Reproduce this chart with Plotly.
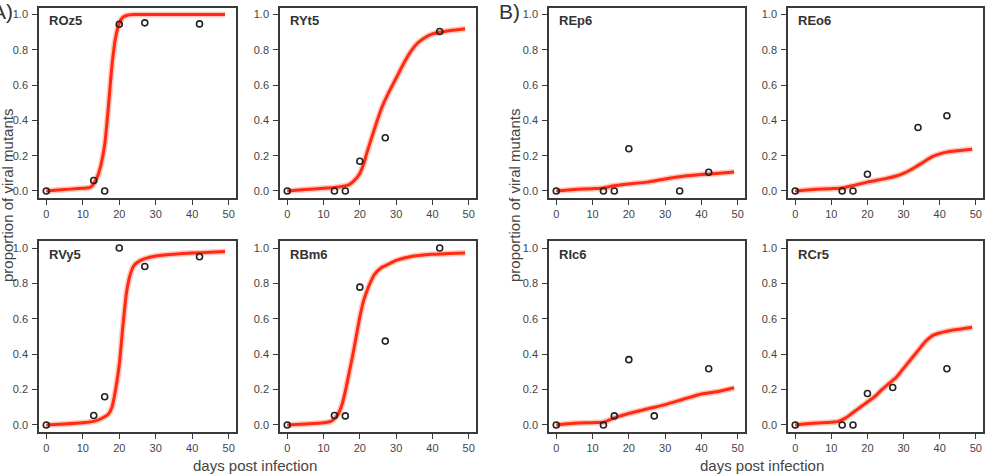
import plotly.graph_objects as go

# ---------------- data ----------------
panel_names = ["ROz5", "RYt5", "REp6", "REo6", "RVy5", "RBm6", "RIc6", "RCr5"]

x_ticks = [0, 10, 20, 30, 40, 50]
y_ticks = [0.0, 0.2, 0.4, 0.6, 0.8, 1.0]

# observed points
roz5_days = [0, 13, 16, 20, 27, 42]
roz5_obs = [0.0, 0.059, 0.0, 0.945, 0.953, 0.947]
ryt5_days = [0, 13, 16, 20, 27, 42]
ryt5_obs = [0.0, 0.0, 0.0, 0.168, 0.302, 0.904]
rvy5_days = [0, 13, 16, 20, 27, 42]
rvy5_obs = [0.0, 0.053, 0.159, 1.0, 0.896, 0.951]
rbm6_days = [0, 13, 16, 20, 27, 42]
rbm6_obs = [0.0, 0.053, 0.051, 0.779, 0.474, 1.0]
rep6_days = [0, 13, 16, 20, 34, 42]
rep6_obs = [0.0, 0.0, 0.0, 0.239, 0.0, 0.106]
reo6_days = [0, 13, 16, 20, 34, 42]
reo6_obs = [0.0, 0.0, 0.0, 0.095, 0.36, 0.426]
ric6_days = [0, 13, 16, 20, 27, 42]
ric6_obs = [0.0, 0.0, 0.051, 0.369, 0.051, 0.318]
rcr5_days = [0, 13, 16, 20, 27, 42]
rcr5_obs = [0.0, 0.0, 0.0, 0.178, 0.212, 0.318]

# fitted curves
roz5_fit_x = [0, 5, 10, 12, 13, 14, 15, 16, 17, 18, 19, 20, 21, 22, 24, 30, 40, 49]
roz5_fit_y = [0.0, 0.008, 0.015, 0.02, 0.04, 0.08, 0.15, 0.26, 0.47, 0.71, 0.87, 0.95, 0.985, 0.995, 1.0, 1.0, 1.0, 1.0]
ryt5_fit_x = [0, 5, 10, 13, 15, 17, 19, 20, 21, 22, 24, 26, 28, 30, 32, 34, 36, 38, 40, 42, 45, 49]
ryt5_fit_y = [0.0, 0.008, 0.015, 0.02, 0.025, 0.035, 0.07, 0.1, 0.15, 0.22, 0.35, 0.47, 0.56, 0.64, 0.72, 0.79, 0.84, 0.87, 0.89, 0.9, 0.91, 0.92]
rvy5_fit_x = [0, 5, 10, 13, 15, 17, 18, 19, 20, 21, 22, 23, 24, 25, 27, 30, 35, 40, 45, 49]
rvy5_fit_y = [0.0, 0.005, 0.012, 0.02, 0.035, 0.06, 0.1, 0.2, 0.34, 0.56, 0.75, 0.85, 0.9, 0.92, 0.94, 0.955, 0.965, 0.972, 0.976, 0.98]
rbm6_fit_x = [0, 5, 10, 12, 13, 14, 15, 16, 17, 18, 19, 20, 21, 22, 23, 24, 26, 28, 30, 35, 40, 45, 49]
rbm6_fit_y = [0.0, 0.005, 0.012, 0.02, 0.035, 0.06, 0.11, 0.19, 0.29, 0.39, 0.5, 0.61, 0.7, 0.76, 0.81, 0.85, 0.89, 0.91, 0.93, 0.955, 0.965, 0.97, 0.972]
rep6_fit_x = [0, 5, 10, 13, 16, 20, 25, 30, 35, 40, 45, 49]
rep6_fit_y = [0.0, 0.008, 0.013, 0.017, 0.03, 0.04, 0.05, 0.068, 0.083, 0.093, 0.1, 0.107]
reo6_fit_x = [0, 5, 10, 13, 16, 20, 25, 28, 30, 32, 34, 36, 38, 40, 42, 45, 49]
reo6_fit_y = [0.0, 0.008, 0.013, 0.017, 0.03, 0.05, 0.07, 0.085, 0.1, 0.12, 0.145, 0.17, 0.195, 0.21, 0.22, 0.228, 0.237]
ric6_fit_x = [0, 5, 10, 13, 16, 20, 25, 30, 35, 40, 45, 49]
ric6_fit_y = [0.0, 0.01, 0.013, 0.015, 0.04, 0.065, 0.09, 0.115, 0.145, 0.175, 0.19, 0.21]
rcr5_fit_x = [0, 5, 10, 12, 14, 16, 18, 20, 22, 24, 26, 28, 30, 32, 34, 36, 38, 40, 42, 45, 49]
rcr5_fit_y = [0.0, 0.01, 0.015, 0.02, 0.04, 0.07, 0.1, 0.13, 0.16, 0.2, 0.235, 0.27, 0.32, 0.37, 0.42, 0.47, 0.505, 0.52, 0.53, 0.54, 0.552]

panel_days = [roz5_days, ryt5_days, rep6_days, reo6_days, rvy5_days, rbm6_days, ric6_days, rcr5_days]
panel_obs = [roz5_obs, ryt5_obs, rep6_obs, reo6_obs, rvy5_obs, rbm6_obs, ric6_obs, rcr5_obs]
panel_fit_x = [roz5_fit_x, ryt5_fit_x, rep6_fit_x, reo6_fit_x, rvy5_fit_x, rbm6_fit_x, ric6_fit_x, rcr5_fit_x]
panel_fit_y = [roz5_fit_y, ryt5_fit_y, rep6_fit_y, reo6_fit_y, rvy5_fit_y, rbm6_fit_y, ric6_fit_y, rcr5_fit_y]

# ---------------- layout geometry (pixels) ----------------
W, H = 988, 476
col_px = [(39, 236), (280, 476), (549, 745), (788, 983)]
row_px = [(7.5, 198), (241, 432)]

FONT = "Liberation Sans, Arial, sans-serif"
TXT = "#444444"
RED = "#ff2a10"

fig = go.Figure()
layout_axes = {}
annotations = []

for i, name in enumerate(panel_names):
    r, c = divmod(i, 4)
    n = i + 1
    xa = "x" if n == 1 else f"x{n}"
    ya = "y" if n == 1 else f"y{n}"
    x0, x1 = col_px[c]
    top, bot = row_px[r]
    xdom = [x0 / W, x1 / W]
    ydom = [1 - bot / H, 1 - top / H]

    # soft halo under the curve
    fig.add_trace(go.Scatter(x=panel_fit_x[i], y=panel_fit_y[i], mode="lines",
                             line=dict(color="rgba(255,70,40,0.30)", width=6, shape="spline", smoothing=0.6),
                             xaxis=xa, yaxis=ya, showlegend=False, hoverinfo="skip"))
    fig.add_trace(go.Scatter(x=panel_fit_x[i], y=panel_fit_y[i], mode="lines",
                             line=dict(color=RED, width=3, shape="spline", smoothing=0.6),
                             xaxis=xa, yaxis=ya, showlegend=False))
    fig.add_trace(go.Scatter(x=panel_days[i], y=panel_obs[i], mode="markers",
                             marker=dict(symbol="circle-open", size=6, color="#222222",
                                         line=dict(width=1.6, color="#222222")),
                             xaxis=xa, yaxis=ya, showlegend=False))

    axis_common = dict(showline=True, mirror=True, linecolor="#3a3a3a", linewidth=1.5,
                       ticks="outside", ticklen=5, tickwidth=1.2, tickcolor="#3a3a3a",
                       showgrid=False, zeroline=False,
                       tickfont=dict(family=FONT, size=11, color=TXT))
    layout_axes["xaxis" if n == 1 else f"xaxis{n}"] = dict(
        domain=xdom, range=[-2, 52], tickvals=x_ticks, anchor=ya, **axis_common)
    layout_axes["yaxis" if n == 1 else f"yaxis{n}"] = dict(
        domain=ydom, range=[-0.04, 1.04], tickvals=y_ticks, tickformat=".1f", anchor=xa,
        ticklabelstandoff=2, **axis_common)

    annotations.append(dict(text=f"<b>{name}</b>", xref=f"{xa} domain", yref=f"{ya} domain",
                            x=0.04, y=0.93, xanchor="left", yanchor="middle", showarrow=False,
                            font=dict(family=FONT, size=13, color="#333333")))

# panel letters
annotations.append(dict(text="A)", xref="paper", yref="paper", x=-10 / W, y=1 - 11 / H,
                        xanchor="left", yanchor="middle", showarrow=False,
                        font=dict(family=FONT, size=21, color="#333333")))
annotations.append(dict(text="B)", xref="paper", yref="paper", x=497 / W, y=1 - 11 / H,
                        xanchor="left", yanchor="middle", showarrow=False,
                        font=dict(family=FONT, size=21, color="#333333")))

# axis titles
for cx in [7, 514]:
    annotations.append(dict(text="proportion of viral mutants", xref="paper", yref="paper",
                            x=cx / W, y=1 - 196 / H, xanchor="center", yanchor="middle",
                            textangle=-90, showarrow=False,
                            font=dict(family=FONT, size=15, color=TXT)))
for cx in [255, 762]:
    annotations.append(dict(text="days post infection", xref="paper", yref="paper",
                            x=cx / W, y=1 - 465 / H, xanchor="center", yanchor="middle",
                            showarrow=False, font=dict(family=FONT, size=15, color=TXT)))

fig.update_layout(width=W, height=H, margin=dict(l=0, r=0, t=0, b=0),
                  paper_bgcolor="white", plot_bgcolor="white",
                  annotations=annotations, **layout_axes)

fig.write_html("out.html")
